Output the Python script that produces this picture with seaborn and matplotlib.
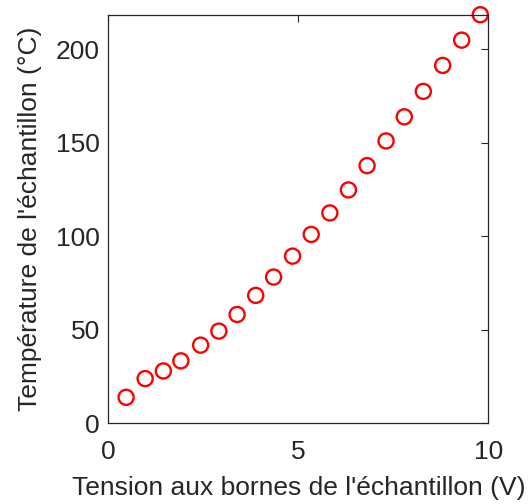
import numpy as np
import pandas as pd
import matplotlib
matplotlib.use("Agg")
import matplotlib.pyplot as plt
import seaborn as sns

# Données
tension = [0.47, 0.97, 1.45, 1.91, 2.43, 2.91, 3.39, 3.88, 4.35, 4.85,
           5.34, 5.83, 6.32, 6.81, 7.31, 7.79, 8.29, 8.80, 9.30, 9.79]
temperature = [13.9, 23.9, 28.0, 33.4, 41.8, 49.3, 58.2, 68.4, 78.2, 89.4,
               101.0, 112.5, 124.8, 137.8, 151.0, 163.9, 177.5, 191.4, 204.9, 218.5]
xticks = [0, 5, 10]
yticks = [0, 50, 100, 150, 200]

df = pd.DataFrame({"tension": tension, "temperature": temperature})

sns.set_theme(style="white")
plt.rcParams['font.family'] = ['Liberation Sans', 'DejaVu Sans']
gris = "#262626"

fig = plt.figure(figsize=(5.30, 5.04), dpi=100)
ax = fig.add_axes([0.2043, 0.1601, 0.7170, 0.8107])

sns.scatterplot(data=df, x="tension", y="temperature", ax=ax,
                marker="o", s=118, facecolors="none", edgecolor="#ff0000",
                linewidth=1.7, clip_on=False, legend=False)

ax.set_xlim(0, 10)
ax.set_ylim(0, 218.5)
ax.set_xticks(xticks)
ax.set_yticks(yticks)
ax.tick_params(direction="in", length=5, width=0.8, colors=gris,
               labelsize=19, top=True, right=True, pad=6)
ax.tick_params(axis="x", pad=12)
for sp in ax.spines.values():
    sp.set_color(gris)
    sp.set_linewidth(0.9)
    sp.set_visible(True)

ax.set_xlabel("Tension aux bornes de l'échantillon (V)", fontsize=19,
              color=gris, labelpad=9)
ax.set_ylabel("Température de l'échantillon (°C)", fontsize=19,
              color=gris, labelpad=10)

fig.savefig("out.png", dpi=100)
